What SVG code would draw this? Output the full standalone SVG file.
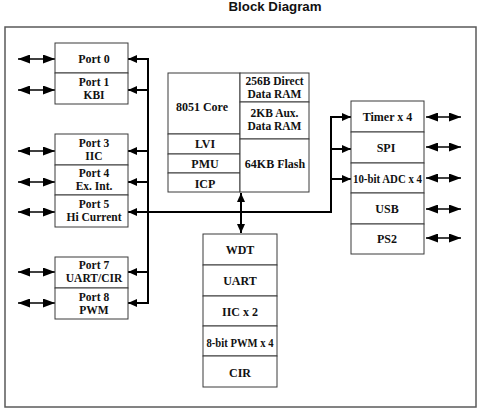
<svg xmlns="http://www.w3.org/2000/svg" width="480" height="411" viewBox="0 0 480 411">
<style>
.box{fill:#fff;stroke:#3a3a3a;stroke-width:1}
.t{font-family:"Liberation Serif","Times New Roman",serif;font-weight:bold;font-size:12px;fill:#111;text-anchor:middle}
.t2{font-size:11.5px}
.ln{stroke:#000;stroke-width:2;fill:none}
.io{stroke:#000;stroke-width:1.5;fill:none;marker-start:url(#dbl);marker-end:url(#dbl)}
.br{stroke:#000;stroke-width:2;fill:none;marker-end:url(#arr)}
</style>
<defs>
<marker id="dbl" markerUnits="userSpaceOnUse" markerWidth="12" markerHeight="9" refX="12" refY="4.5" orient="auto-start-reverse"><path d="M0,0 L12,4.5 L0,9 Z" fill="#000"/></marker>
<marker id="arr" markerUnits="userSpaceOnUse" markerWidth="9" markerHeight="8" refX="9" refY="4" orient="auto-start-reverse"><path d="M0,0 L9,4 L0,8 Z" fill="#000"/></marker>
</defs>
<rect width="480" height="411" fill="#fff"/>
<text x="275" y="11" font-family="Liberation Sans,Arial,sans-serif" font-weight="bold" font-size="12.5" text-anchor="middle" textLength="93" lengthAdjust="spacingAndGlyphs" fill="#111">Block Diagram</text>
<rect x="5" y="27" width="471" height="380" fill="none" stroke="#5a5a5a" stroke-width="1.5"/>

<g id="connectors">
<line class="io" x1="18" y1="59" x2="55" y2="59"/>
<line class="io" x1="18" y1="90" x2="55" y2="90"/>
<line class="io" x1="18" y1="151" x2="55" y2="151"/>
<line class="io" x1="18" y1="182" x2="55" y2="182"/>
<line class="io" x1="18" y1="212" x2="55" y2="212"/>
<line class="io" x1="18" y1="272" x2="55" y2="272"/>
<line class="io" x1="18" y1="303" x2="55" y2="303"/>
<line class="ln" x1="148" y1="58" x2="148" y2="304"/>
<line class="br" x1="148" y1="59" x2="128" y2="59"/>
<line class="br" x1="148" y1="90" x2="128" y2="90"/>
<line class="br" x1="148" y1="151" x2="128" y2="151"/>
<line class="br" x1="148" y1="182" x2="128" y2="182"/>
<line class="br" x1="148" y1="212" x2="128" y2="212"/>
<line class="br" x1="148" y1="272" x2="128" y2="272"/>
<line class="br" x1="148" y1="303" x2="128" y2="303"/>
<polyline class="ln" points="148,212 331,212 331,116"/>
<line class="br" x1="330" y1="117" x2="351" y2="117"/>
<line class="br" x1="330" y1="149" x2="351" y2="149"/>
<line class="br" x1="330" y1="179" x2="351" y2="179"/>
<line x1="241" y1="193" x2="241" y2="233" stroke="#000" stroke-width="2" marker-start="url(#arr)" marker-end="url(#arr)"/>
<line class="io" x1="426" y1="117" x2="461" y2="117"/>
<line class="io" x1="426" y1="147" x2="461" y2="147"/>
<line class="io" x1="426" y1="178" x2="461" y2="178"/>
<line class="io" x1="426" y1="209" x2="461" y2="209"/>
<line class="io" x1="426" y1="238" x2="461" y2="238"/>
</g>

<g id="port0">
<rect class="box" x="55" y="43" width="73" height="30"/>
<text class="t" x="94" y="63">Port 0</text>
</g>
<g id="port1">
<rect class="box" x="55" y="73" width="73" height="31"/>
<text class="t t2"><tspan x="94" y="85.5">Port 1</tspan><tspan x="94" y="98.5">KBI</tspan></text>
</g>
<g id="port3">
<rect class="box" x="55" y="134" width="73" height="31"/>
<text class="t t2"><tspan x="94" y="146.5">Port 3</tspan><tspan x="94" y="159.5">IIC</tspan></text>
</g>
<g id="port4">
<rect class="box" x="55" y="165" width="73" height="30"/>
<text class="t t2"><tspan x="94" y="177">Port 4</tspan><tspan x="94" y="190">Ex. Int.</tspan></text>
</g>
<g id="port5">
<rect class="box" x="55" y="195" width="73" height="32"/>
<text class="t t2"><tspan x="94" y="207.5">Port 5</tspan><tspan x="94" y="220.5">Hi Current</tspan></text>
</g>
<g id="port7">
<rect class="box" x="55" y="257" width="73" height="31"/>
<text class="t t2"><tspan x="94" y="269.3">Port 7</tspan><tspan x="94" y="282.3">UART/CIR</tspan></text>
</g>
<g id="port8">
<rect class="box" x="55" y="288" width="73" height="31"/>
<text class="t t2"><tspan x="94" y="300.5">Port 8</tspan><tspan x="94" y="313.5">PWM</tspan></text>
</g>

<g id="core">
<rect class="box" x="168" y="73" width="72" height="61"/>
<text class="t" x="202" y="111">8051 Core</text>
</g>
<g id="lvi">
<rect class="box" x="168" y="134" width="72" height="20"/>
<text class="t" x="205" y="148">LVI</text>
</g>
<g id="pmu">
<rect class="box" x="168" y="154" width="72" height="19"/>
<text class="t" x="205" y="167.5">PMU</text>
</g>
<g id="icp">
<rect class="box" x="168" y="173" width="72" height="19"/>
<text class="t" x="205" y="187.5">ICP</text>
</g>
<g id="ram256">
<rect class="box" x="240" y="73" width="69" height="29"/>
<text class="t t2"><tspan x="274.5" y="85">256B Direct</tspan><tspan x="274.5" y="98">Data RAM</tspan></text>
</g>
<g id="ram2k">
<rect class="box" x="240" y="102" width="69" height="37"/>
<text class="t t2"><tspan x="274.5" y="117">2KB Aux.</tspan><tspan x="274.5" y="130">Data RAM</tspan></text>
</g>
<g id="flash">
<rect class="box" x="240" y="139" width="69" height="53"/>
<text class="t" x="275" y="167.5">64KB Flash</text>
</g>

<g id="timer">
<rect class="box" x="351" y="101" width="73" height="31"/>
<text class="t" x="387.5" y="121">Timer x 4</text>
</g>
<g id="spi">
<rect class="box" x="351" y="132" width="73" height="31"/>
<text class="t" x="386" y="151.5">SPI</text>
</g>
<g id="adc">
<rect class="box" x="351" y="163" width="73" height="30"/>
<text class="t" x="387.5" y="182.5" textLength="69" lengthAdjust="spacingAndGlyphs">10-bit ADC x 4</text>
</g>
<g id="usb">
<rect class="box" x="351" y="193" width="73" height="31"/>
<text class="t" x="387" y="213">USB</text>
</g>
<g id="ps2">
<rect class="box" x="351" y="224" width="73" height="30"/>
<text class="t" x="387" y="242.5">PS2</text>
</g>

<g id="wdt">
<rect class="box" x="203" y="234" width="74" height="31"/>
<text class="t" x="240" y="254">WDT</text>
</g>
<g id="uart">
<rect class="box" x="203" y="265" width="74" height="31"/>
<text class="t" x="240" y="285">UART</text>
</g>
<g id="iic2">
<rect class="box" x="203" y="296" width="74" height="30"/>
<text class="t" x="240" y="315.5">IIC x 2</text>
</g>
<g id="pwm4">
<rect class="box" x="203" y="326" width="74" height="30"/>
<text class="t" x="240" y="346.5" textLength="67" lengthAdjust="spacingAndGlyphs">8-bit PWM x 4</text>
</g>
<g id="cir">
<rect class="box" x="203" y="356" width="74" height="31"/>
<text class="t" x="240" y="377">CIR</text>
</g>
</svg>
